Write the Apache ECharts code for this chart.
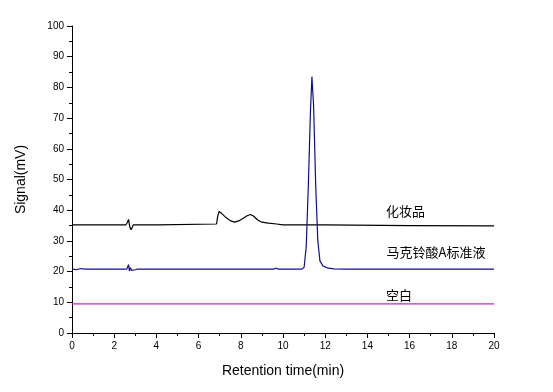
<!DOCTYPE html>
<html><head><meta charset="utf-8">
<script src="https://cdn.jsdelivr.net/npm/echarts@6/dist/echarts.min.js"></script>
<style>html,body{margin:0;padding:0;background:#fff}#c{width:553px;height:392px}</style>
</head><body><div id="c"></div>
<script>
var xTicks = [0,2,4,6,8,10,12,14,16,18,20];
var yTicks = [0,10,20,30,40,50,60,70,80,90,100];
var seriesNames = ['化妆品','马克铃酸A标准液','空白'];

var cosmeticT = [0,2.55,2.62,2.68,2.74,2.80,2.9,3.95,4.0,4.05,6.85,6.9,6.97,7.1,7.3,7.5,7.7,7.9,8.1,8.3,8.45,8.6,8.8,9.0,9.3,9.7,10.0,12,16,20];
var cosmeticV = [35.2,35.2,36.0,37.0,34.5,33.6,35.2,35.2,35.6,35.2,35.5,37.8,39.6,38.9,37.6,36.6,36.1,36.5,37.3,38.2,38.6,38.1,36.8,36.1,35.8,35.5,35.2,35.2,35.0,34.9];

var standardT = [0,0.2,0.4,0.6,2.6,2.68,2.72,2.76,2.82,2.9,3.0,3.1,9.55,9.65,9.8,10.9,11.0,11.1,11.2,11.3,11.37,11.45,11.55,11.65,11.75,11.9,12.1,12.4,13,20];
var standardV = [20.9,20.6,21.0,20.8,20.8,22.3,20.2,21.3,20.4,21.0,20.6,20.8,20.8,21.1,20.8,20.8,21.4,28,48,72,83.5,74,48,30,23.5,21.8,21.2,20.9,20.8,20.8];

var blankT = [0,20];
var blankV = [9.5,9.5];

var labelPos = [[15.8,39.6],[17.25,26.3],[15.5,12.2]];

function pairs(t,v){return t.map(function(x,i){return [x,v[i]];});}

var chart = echarts.init(document.getElementById('c'));
var colors = ['#000000','#10108a','#cc22cc'];
var datas = [pairs(cosmeticT,cosmeticV), pairs(standardT,standardV), pairs(blankT,blankV)];
var series = datas.map(function(d,i){
  return {
    type:'line', data:d, symbol:'none', animation:false,
    lineStyle:{color:colors[i], width:1.2},
    markPoint:{
      symbol:'rect', symbolSize:1, itemStyle:{color:'rgba(0,0,0,0)'},
      label:{show:true, position:'inside', formatter:seriesNames[i], color:'#000',
        fontFamily:'Noto Sans CJK SC', fontSize:13},
      data:[{coord:labelPos[i]}]
    }
  };
});
chart.setOption({
  backgroundColor:'#fff',
  grid:{left:72, right:59, top:26, bottom:59},
  xAxis:{type:'value', min:0, max:20, interval:2,
    name:'Retention time(min)', nameLocation:'middle', nameGap:31,
    nameTextStyle:{fontFamily:'Liberation Sans', fontSize:14, color:'#000'},
    axisLine:{lineStyle:{color:'#000', width:1}},
    axisTick:{show:true, length:5, lineStyle:{color:'#000'}},
    minorTick:{show:true, splitNumber:2, length:3, lineStyle:{color:'#000'}},
    axisLabel:{fontFamily:'Liberation Sans', fontSize:10, color:'#000', margin:8},
    splitLine:{show:false}},
  yAxis:{type:'value', min:0, max:100, interval:10,
    name:'Signal(mV)', nameLocation:'middle', nameGap:44, nameRotate:90,
    nameTextStyle:{fontFamily:'Liberation Sans', fontSize:14, color:'#000'},
    axisLine:{show:true, lineStyle:{color:'#000', width:1}},
    axisTick:{show:true, length:5, lineStyle:{color:'#000'}},
    minorTick:{show:true, splitNumber:2, length:3, lineStyle:{color:'#000'}},
    axisLabel:{fontFamily:'Liberation Sans', fontSize:10, color:'#000', margin:8},
    splitLine:{show:false}},
  series:series
});
</script></body></html>
